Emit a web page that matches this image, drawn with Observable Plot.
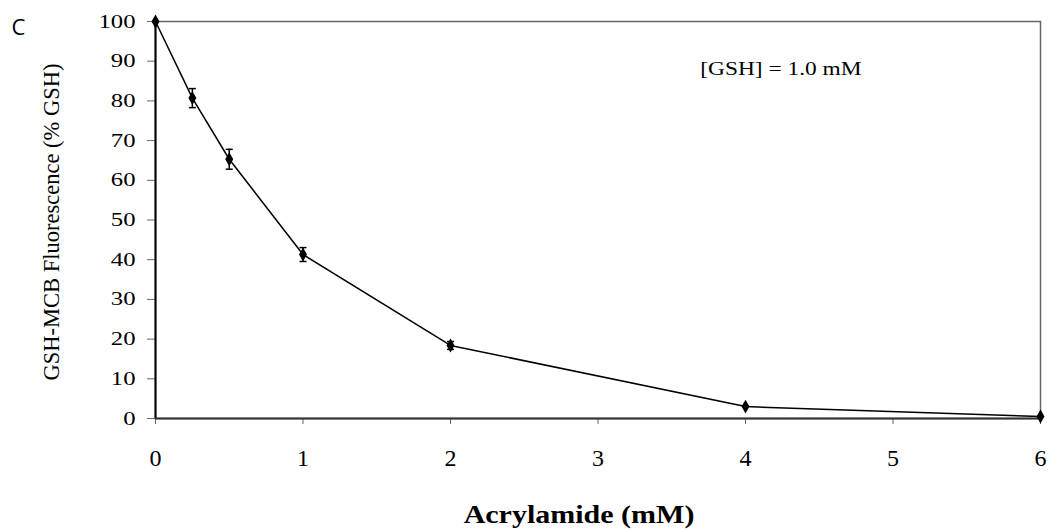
<!DOCTYPE html>
<html>
<head>
<meta charset="utf-8">
<script src="https://cdn.jsdelivr.net/npm/d3@7"></script>
<script src="https://cdn.jsdelivr.net/npm/@observablehq/plot@0.6"></script>
<style>
  html, body { margin: 0; padding: 0; background: #fff; }
</style>
</head>
<body>
<div id="chart"></div>
<script>
// Data
const acrylamide = [0, 0.25, 0.5, 1, 2, 4, 6];
const fluorescence = [100, 80.7, 65.3, 41.3, 18.4, 3.0, 0.5];
const errors = [0, 2.4, 2.5, 1.75, 1.0, 0, 0];
const xTicks = [0, 1, 2, 3, 4, 5, 6];
const yTicks = [0, 10, 20, 30, 40, 50, 60, 70, 80, 90, 100];
const xTitle = "Acrylamide (mM)";
const yTitle = "GSH-MCB Fluorescence (% GSH)";
const panelLabel = "C";
const annotationText = "[GSH] = 1.0 mM";
const annotationPos = [4.24, 88];

const data = acrylamide.map((x, i) => ({x, y: fluorescence[i], e: errors[i]}));
const errData = data.filter(d => d.e > 0);

const capSymbol = {
  draw(context, size) {
    const w = Math.sqrt(size / Math.PI);
    context.moveTo(-w, 0);
    context.lineTo(w, 0);
  }
};

const serif = "'Liberation Serif', 'Times New Roman', serif";

const chart = Plot.plot({
  width: 1051,
  height: 532,
  marginLeft: 155,
  marginRight: 11,
  marginTop: 21,
  marginBottom: 114,
  style: {fontFamily: serif, background: "#fff", overflow: "visible"},
  x: {domain: [0, 6]},
  y: {domain: [0, 100]},
  marks: [
    Plot.frame({stroke: "#666", strokeWidth: 1.5}),
    Plot.axisX({ticks: xTicks, tickSize: 6, tickPadding: 24, stroke: "#666", fill: "#000", label: null, tickFormat: d => String(d), className: "xt"}),
    Plot.axisY({ticks: yTicks, tickSize: 8, tickPadding: 12, stroke: "#666", fill: "#000", label: null, tickFormat: d => String(d), className: "yt"}),
    Plot.ruleY([0], {stroke: "#333", strokeWidth: 2}),
    Plot.ruleX([0], {stroke: "#000", strokeWidth: 2}),
    Plot.ruleX(errData, {x: "x", y1: d => d.y - d.e, y2: d => d.y + d.e, stroke: "#000", strokeWidth: 1.5}),
    Plot.dot(errData, {x: "x", y: d => d.y + d.e, symbol: capSymbol, r: 3.5, stroke: "#000", strokeWidth: 1.5, fill: "none"}),
    Plot.dot(errData, {x: "x", y: d => d.y - d.e, symbol: capSymbol, r: 3.5, stroke: "#000", strokeWidth: 1.5, fill: "none"}),
    Plot.line(data, {x: "x", y: "y", stroke: "#000", strokeWidth: 1.5}),
    Plot.dot(data, {x: "x", y: "y", symbol: "diamond", r: 4.2, fill: "#000", stroke: "none"}),
    Plot.text([annotationText], {x: () => annotationPos[0], y: () => annotationPos[1], text: d => d, fontSize: 19.5, fill: "#000", fontFamily: serif, className: "ann"}),
    Plot.text([xTitle], {frameAnchor: "bottom", dy: 104, dx: -19, text: d => d, fontSize: 25, fontWeight: "bold", fill: "#000", fontFamily: serif, className: "xtitle"}),
    Plot.text([yTitle], {frameAnchor: "left", textAnchor: "middle", dx: -104, dy: 2, rotate: -90, text: d => d, fontSize: 22.5, fill: "#000", fontFamily: serif}),
    Plot.text([panelLabel], {frameAnchor: "top-left", textAnchor: "start", dx: -144, dy: -2, text: d => d, fontSize: 22, fill: "#000", fontFamily: "'Open Sans', 'Liberation Sans', sans-serif"})
  ]
});

document.getElementById("chart").appendChild(chart);

const svg = d3.select(chart);
svg.selectAll("g[aria-label='x-axis tick label'] text").attr("font-size", 24).style("font-size", "24px");
svg.selectAll("g[aria-label='y-axis tick label'] text").attr("font-size", 19).style("font-size", "19px");

function stretch(selection, factor) {
  selection.each(function() {
    const L = this.getComputedTextLength();
    this.setAttribute("textLength", L * factor);
    this.setAttribute("lengthAdjust", "spacingAndGlyphs");
  });
}
stretch(svg.selectAll("g[aria-label='y-axis tick label'] text"), 1.3);
stretch(svg.selectAll("g.ann text"), 1.2);
stretch(svg.selectAll("g.xtitle text"), 1.2);
</script>
</body>
</html>
